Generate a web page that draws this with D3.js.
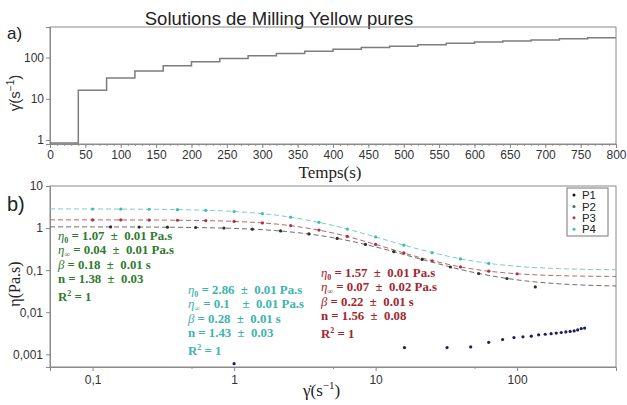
<!DOCTYPE html>
<html>
<head>
<meta charset="utf-8">
<script src="https://cdn.jsdelivr.net/npm/d3@7"></script>
<style>
  body { margin: 0; background: #fff; }
  svg { display: block; font-family: "Liberation Sans", Arial, sans-serif; }
  .fit text { font-family: "Liberation Serif", "Times New Roman", serif; font-weight: bold; font-size: 12.8px; white-space: pre; }
</style>
</head>
<body>
<svg id="chart" width="627" height="405"></svg>
<script>
// panel a: imposed shear rate steps
const stepTimes = [0, 40, 80, 120, 160, 200, 240, 280, 320, 360, 400, 440, 480, 520, 560, 600, 640, 680, 720, 760, 800];
const stepRates = [0.85, 16, 32, 47, 63, 79, 95, 110, 126, 142, 158, 174, 189, 205, 221, 237, 253, 268, 284, 300, 300];
const timeTicks = [0, 50, 100, 150, 200, 250, 300, 350, 400, 450, 500, 550, 600, 650, 700, 750, 800];
const rateTicksA = [1, 10, 100];

// panel b: viscosity curves
const p1Rates = [1, 16, 32, 47, 63, 79, 95, 110, 126, 142, 158, 174, 189, 205, 221, 237, 253, 268, 284, 300];
const p1Visc = [0.0006, 0.00145, 0.00145, 0.0015, 0.00193, 0.00225, 0.0025, 0.0026, 0.0027, 0.0029, 0.003, 0.0031, 0.0032, 0.0033, 0.0034, 0.0035, 0.0036, 0.0038, 0.0041, 0.0042];

const p2Rates = [0.134, 0.213, 0.338, 0.535, 0.848, 1.345, 2.13, 3.38, 5.35, 8.48, 13.45, 21.3, 33.8, 53.5, 84.8, 134.5];
const p2Visc = [1.064, 1.059, 1.049, 1.031, 0.998, 0.942, 0.854, 0.725, 0.568, 0.409, 0.275, 0.18, 0.119, 0.0833, 0.0634, 0.04];

const p3Rates = [0.1, 0.158, 0.251, 0.398, 0.631, 1, 1.585, 2.512, 3.981, 6.31, 10, 15.85, 25.1, 39.8, 63.1, 100];
const p3Visc = [1.566, 1.562, 1.554, 1.537, 1.504, 1.441, 1.327, 1.144, 0.897, 0.632, 0.409, 0.257, 0.1675, 0.1192, 0.0944, 0.082];

const p4Rates = [0.1, 0.158, 0.251, 0.398, 0.631, 1, 1.585, 2.512, 3.981, 6.31, 10, 15.85, 25.1, 39.8, 63.1];
const p4Visc = [2.844, 2.828, 2.8, 2.745, 2.647, 2.475, 2.202, 1.82, 1.373, 0.947, 0.615, 0.393, 0.26, 0.185, 0.145];

// dashed fit curves
const fitRates = [0.05, 0.1, 0.2, 0.5, 1, 2, 5, 10, 20, 50, 100, 200, 500];
const fitP2 = [1.0685, 1.066, 1.06, 1.034, 0.982, 0.868, 0.592, 0.357, 0.19, 0.0875, 0.0588, 0.0473, 0.0421];
const fitP3 = [1.5687, 1.566, 1.559, 1.523, 1.441, 1.244, 0.764, 0.409, 0.205, 0.1048, 0.082, 0.0741, 0.071];
const fitP4 = [2.854, 2.844, 2.816, 2.704, 2.475, 2.021, 1.154, 0.615, 0.318, 0.162, 0.1233, 0.1087, 0.1024];

// fitted parameters shown in the boxes (P2, P4, P3)
const fitEta0 = ["1.07", "2.86", "1.57"];
const fitEtaInf = ["0.04", "0.1  ", "0.07"];
const fitEtaInfErr = ["0.01", "0.01", "0.02"];
const fitBeta = ["0.18", "0.28", "0.22"];
const fitN = ["1.38", "1.43", "1.56"];
const fitNErr = ["0.03", "0.03", "0.08"];

const legendNames = ["P1", "P2", "P3", "P4"];
const rateTicksB = [0.1, 1, 10, 100];
const rateTickLabelsB = ["0,1", "1", "10", "100"];
const viscTicks = [10, 1, 0.1, 0.01, 0.001];
const viscTickLabels = ["10", "1", "0,1", "0,01", "0,001"];

const svg = d3.select("#chart");
const gridGray = "#8a8a8a";

svg.append("text")
    .attr("x", 279).attr("y", 25)
    .attr("text-anchor", "middle")
    .attr("font-size", 18.5)
    .attr("fill", "#222")
    .text("Solutions de Milling Yellow pures");

// ---------- panel a ----------
const xA = d3.scaleLinear([0, 800], [50, 616]);
const yA = d3.scaleLog([0.8, 550], [144, 27]);

svg.append("text").attr("x", 7).attr("y", 39).attr("font-size", 17).attr("fill", "#222").text("a)");

svg.append("rect")
    .attr("x", 50).attr("y", 27).attr("width", 566).attr("height", 117)
    .attr("fill", "none").attr("stroke", gridGray);

const axA = svg.append("g").attr("transform", "translate(0,144)")
    .call(d3.axisBottom(xA).tickValues(d3.range(0, 801, 10)).tickSize(2).tickFormat(""));
axA.select(".domain").remove();
axA.selectAll("line").attr("stroke", "#999");

const axA2 = svg.append("g").attr("transform", "translate(0,144)")
    .call(d3.axisBottom(xA).tickValues(timeTicks).tickSize(4).tickPadding(2));
axA2.select(".domain").attr("stroke", gridGray);
axA2.selectAll("line").attr("stroke", gridGray);
axA2.selectAll("text").attr("font-size", 12).attr("fill", "#333")
    .attr("font-family", "Liberation Sans, Arial, sans-serif");

const ayA = svg.append("g").attr("transform", "translate(50,0)")
    .call(d3.axisLeft(yA).tickValues(rateTicksA).tickFormat(d3.format("d")).tickSize(4).tickPadding(2));
ayA.select(".domain").attr("stroke", gridGray);
ayA.selectAll("line").attr("stroke", gridGray);
ayA.selectAll("text").attr("font-size", 12).attr("fill", "#333")
    .attr("font-family", "Liberation Sans, Arial, sans-serif");

const stepLine = d3.line()
    .x((d, i) => xA(stepTimes[i]))
    .y(d => yA(d))
    .curve(d3.curveStepAfter);

svg.append("path")
    .datum(stepRates)
    .attr("d", stepLine)
    .attr("fill", "none")
    .attr("stroke", "#7d7d7d")
    .attr("stroke-width", 1.5);

svg.append("text")
    .attr("transform", "translate(20,93) rotate(-90)")
    .attr("text-anchor", "middle")
    .attr("font-size", 15).attr("fill", "#333")
    .html("γ&#775;(s<tspan dy='-6' font-size='10'>−1</tspan><tspan dy='6'>)</tspan>");

svg.append("text")
    .attr("x", 330).attr("y", 178)
    .attr("text-anchor", "middle")
    .attr("font-family", "Liberation Serif, Times New Roman, serif")
    .attr("font-size", 17).attr("fill", "#222")
    .text("Temps(s)");

// ---------- panel b ----------
const xB = d3.scaleLog([0.05, 500], [50, 616]);
const yB = d3.scaleLog([0.0005, 10], [367, 186]);

svg.append("text").attr("x", 7).attr("y", 211).attr("font-size", 20).attr("fill", "#222").text("b)");

svg.append("rect")
    .attr("x", 50).attr("y", 186).attr("width", 566).attr("height", 181)
    .attr("fill", "none").attr("stroke", gridGray);

const axB0 = svg.append("g").attr("transform", "translate(0,367)")
    .call(d3.axisBottom(xB).tickValues([0.5, 5, 50]).tickSize(2).tickFormat(""));
axB0.select(".domain").remove();
axB0.selectAll("line").attr("stroke", "#999");

const axB = svg.append("g").attr("transform", "translate(0,367)")
    .call(d3.axisBottom(xB).tickValues(rateTicksB).tickSize(4).tickPadding(4)
        .tickFormat((d, i) => rateTickLabelsB[i]));
axB.select(".domain").attr("stroke", gridGray);
axB.selectAll("line").attr("stroke", gridGray);
axB.selectAll("text").attr("font-size", 12).attr("fill", "#333")
    .attr("font-family", "Liberation Sans, Arial, sans-serif");

const ayB = svg.append("g").attr("transform", "translate(50,0)")
    .call(d3.axisLeft(yB).tickValues(viscTicks).tickSize(4).tickPadding(3)
        .tickFormat((d, i) => viscTickLabels[i]));
ayB.select(".domain").attr("stroke", gridGray);
ayB.selectAll("line").attr("stroke", gridGray);
ayB.selectAll("text").attr("font-size", 12).attr("fill", "#333")
    .attr("font-family", "Liberation Sans, Arial, sans-serif");

svg.append("text")
    .attr("transform", "translate(20,284) rotate(-90)")
    .attr("text-anchor", "middle")
    .attr("font-family", "Liberation Serif, Times New Roman, serif")
    .attr("font-size", 16).attr("fill", "#222")
    .text("η(Pa.s)");

svg.append("text")
    .attr("x", 303).attr("y", 396)
    .attr("font-family", "Liberation Serif, Times New Roman, serif")
    .attr("font-size", 17).attr("fill", "#222")
    .html("γ&#775;(s<tspan dy='-7' font-size='11'>−1</tspan><tspan dy='7'>)</tspan>");

const plotB = svg.append("g");

const fitLine = d3.line()
    .x((d, i) => xB(fitRates[i]))
    .y(d => yB(d))
    .curve(d3.curveMonotoneX);

const fits = [
    { values: fitP2, color: "#6e6e6e" },
    { values: fitP3, color: "#b26a6a" },
    { values: fitP4, color: "#79cfc6" }
];
plotB.selectAll("path.fit")
    .data(fits)
    .join("path")
    .attr("class", "fit")
    .attr("d", d => fitLine(d.values))
    .attr("fill", "none")
    .attr("stroke", d => d.color)
    .attr("stroke-width", 1)
    .attr("stroke-dasharray", "5,3");

const series = [
    { rates: p1Rates, visc: p1Visc, color: "#1c1f5e" },
    { rates: p2Rates, visc: p2Visc, color: "#2a3328" },
    { rates: p3Rates, visc: p3Visc, color: "#b0303c" },
    { rates: p4Rates, visc: p4Visc, color: "#3cbfb2" }
];
series.forEach(s => {
    plotB.append("g").selectAll("circle")
        .data(s.visc)
        .join("circle")
        .attr("cx", (d, i) => xB(s.rates[i]))
        .attr("cy", d => yB(d))
        .attr("r", 1.6)
        .attr("fill", s.color);
});

// fit parameter boxes: P2 (green), P4 (cyan), P3 (red)
const boxes = [
    { x: 58, y: 240, color: "#2f7a2f" },
    { x: 188, y: 294, color: "#3cb4ac" },
    { x: 321, y: 277, color: "#a3262e" }
];
const rowGap = [0, 14, 29, 43, 61];
boxes.forEach((b, k) => {
    const g = svg.append("g").attr("class", "fit").attr("fill", b.color);
    g.append("text").attr("x", b.x).attr("y", b.y + rowGap[0])
        .html(`<tspan font-weight="normal" font-style="italic">η</tspan><tspan font-size="8" dy="3">0</tspan><tspan dy="-3"> = ${fitEta0[k]}  ±  0.01 Pa.s</tspan>`);
    g.append("text").attr("x", b.x).attr("y", b.y + rowGap[1])
        .html(`<tspan font-weight="normal" font-style="italic">η</tspan><tspan font-size="8" dy="3">∞</tspan><tspan dy="-3"> = ${fitEtaInf[k]}  ±  ${fitEtaInfErr[k]} Pa.s</tspan>`);
    g.append("text").attr("x", b.x).attr("y", b.y + rowGap[2])
        .html(`<tspan font-weight="normal" font-style="italic">β</tspan> = ${fitBeta[k]}  ±  0.01 s`);
    g.append("text").attr("x", b.x).attr("y", b.y + rowGap[3])
        .text(`n = ${fitN[k]}  ±  ${fitNErr[k]}`);
    g.append("text").attr("x", b.x).attr("y", b.y + rowGap[4]).attr("font-weight", "normal")
        .html(`R<tspan font-size="8" dy="-5">2</tspan><tspan dy="5"> = 1</tspan>`);
});

// legend
const legend = svg.append("g").attr("transform", "translate(567,188)");
legend.append("rect")
    .attr("width", 41).attr("height", 48)
    .attr("fill", "#fff").attr("stroke", "#777");
legend.selectAll("g.item")
    .data(legendNames)
    .join("g")
    .attr("class", "item")
    .attr("transform", (d, i) => `translate(0,${7 + i * 11.4})`)
    .each(function (d, i) {
        const it = d3.select(this);
        it.append("circle").attr("cx", 7).attr("cy", 0).attr("r", 1.5)
            .attr("fill", ["#111", "#4b6a4b", "#a0404a", "#3cbfb2"][i]);
        it.append("text").attr("x", 15).attr("y", 4.2)
            .attr("font-size", 11.4).attr("fill", "#222").text(d);
    });
</script>
</body>
</html>
